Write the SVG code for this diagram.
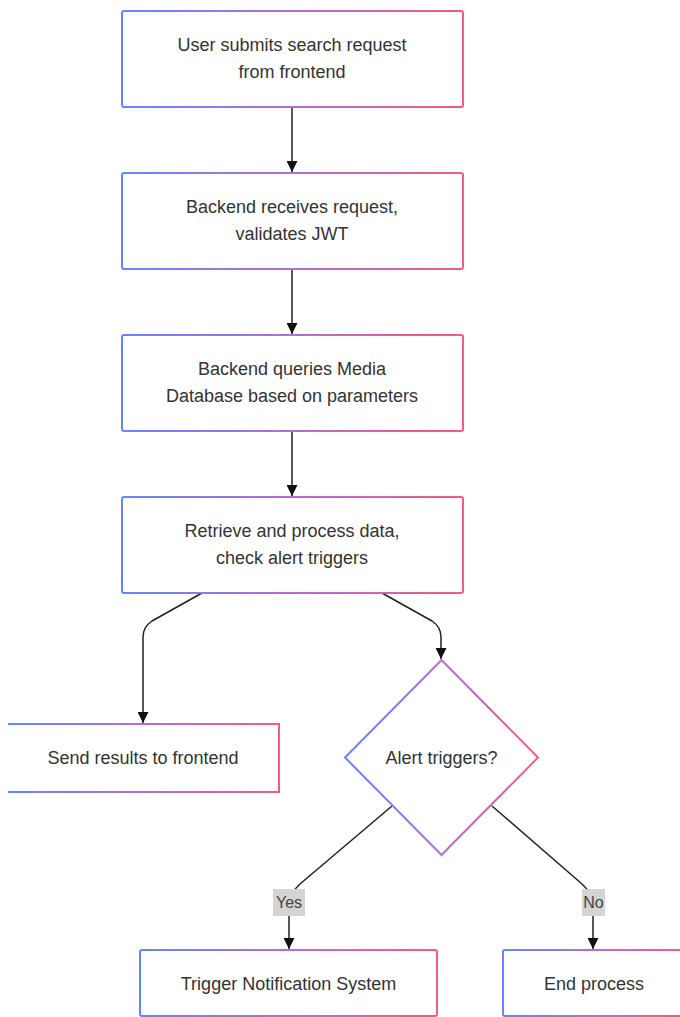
<svg xmlns="http://www.w3.org/2000/svg" width="680" height="1017" viewBox="0 0 680 1017">
<defs>
<linearGradient id="g" x1="0" y1="0" x2="1" y2="0">
<stop offset="0" stop-color="#6584ff"/>
<stop offset="0.5" stop-color="#b26fd2"/>
<stop offset="1" stop-color="#f55a82"/>
</linearGradient>
<marker id="arr" viewBox="0 0 10 10" refX="10" refY="5" markerWidth="11" markerHeight="11" markerUnits="userSpaceOnUse" orient="auto">
<path d="M0,0 L10,5 L0,10 z" fill="#111"/>
</marker>
</defs>
<style>
.box{fill:#fff;stroke:url(#g);stroke-width:2}
.t{font-family:"Liberation Sans",Arial,sans-serif;font-size:18px;fill:#333;text-anchor:middle}
.lt{font-family:"Liberation Sans",Arial,sans-serif;font-size:16px;fill:#444;text-anchor:middle}
.lbl{fill:#d4d4d4}
.c{fill:none;stroke:#222;stroke-width:1.5;marker-end:url(#arr)}
</style>
<rect width="680" height="1017" fill="#fff"/>
<g id="connectors">
<path class="c" d="M292,107 V172"/>
<path class="c" d="M292,269 V334"/>
<path class="c" d="M292,431 V496"/>
<path class="c" d="M202,593 L152,621 Q143,627 143,637 V723"/>
<path class="c" d="M382,593 L432,621 Q441,627 441,637 V659"/>
<path class="c" d="M392,806 L300,884 Q289,894 289,905 V949"/>
<path class="c" d="M492,806 L582,884 Q593,894 593,905 V949"/>
</g>
<g id="label-yes">
<rect class="lbl" x="273" y="889" width="32" height="27"/>
<text class="lt" x="289" y="908">Yes</text>
</g>
<g id="label-no">
<rect class="lbl" x="582" y="889" width="23" height="27"/>
<text class="lt" x="593.5" y="908">No</text>
</g>
<g id="n1">
<rect class="box" x="122" y="11" width="341" height="96" rx="2"/>
<text class="t" x="292" y="51">User submits search request</text>
<text class="t" x="292" y="78">from frontend</text>
</g>
<g id="n2">
<rect class="box" x="122" y="173" width="341" height="96" rx="2"/>
<text class="t" x="292" y="213">Backend receives request,</text>
<text class="t" x="292" y="240">validates JWT</text>
</g>
<g id="n3">
<rect class="box" x="122" y="335" width="341" height="96" rx="2"/>
<text class="t" x="292" y="375">Backend queries Media</text>
<text class="t" x="292" y="402">Database based on parameters</text>
</g>
<g id="n4">
<rect class="box" x="122" y="497" width="341" height="96" rx="2"/>
<text class="t" x="292" y="537">Retrieve and process data,</text>
<text class="t" x="292" y="564">check alert triggers</text>
</g>
<g id="n5">
<path class="box" d="M8,724 H279 V792 H8"/>
<text class="t" x="143" y="764">Send results to frontend</text>
</g>
<g id="n6">
<polygon class="box" points="441.5,660 538,757.5 441.5,855 345,757.5"/>
<text class="t" x="441.5" y="764">Alert triggers?</text>
</g>
<g id="n7">
<rect class="box" x="140" y="950" width="297" height="66" rx="2"/>
<text class="t" x="288.5" y="990">Trigger Notification System</text>
</g>
<g id="n8">
<rect class="box" x="503" y="950" width="182" height="66" rx="2"/>
<text class="t" x="594" y="990">End process</text>
</g>
</svg>
